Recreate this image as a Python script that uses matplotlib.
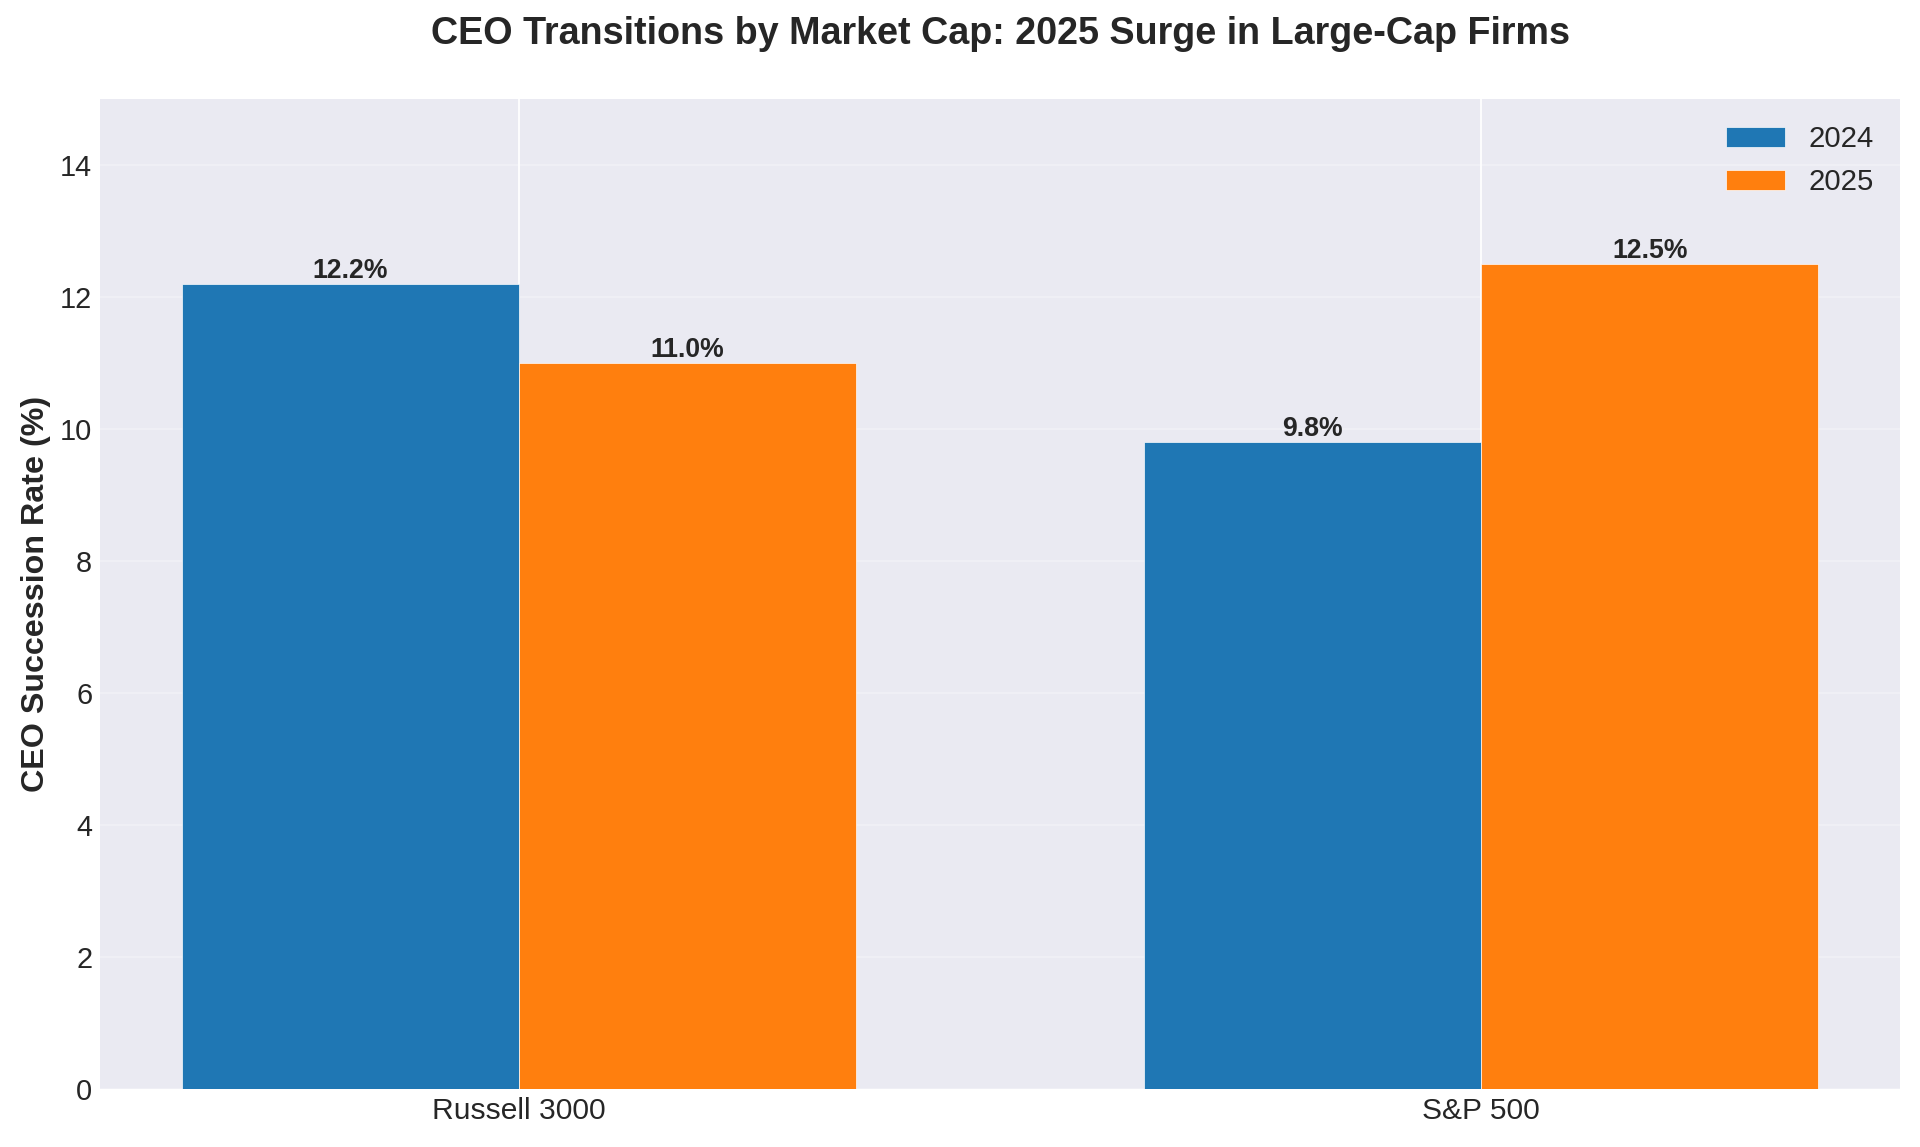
import matplotlib
matplotlib.use("Agg")
import matplotlib.pyplot as plt
import numpy as np

plt.style.use("seaborn-v0_8-darkgrid")
plt.rcParams['font.family'] = ['Liberation Sans', 'DejaVu Sans']

categories = ["Russell 3000", "S&P 500"]
years = ["2024", "2025"]
values_2024 = [12.2, 9.8]
values_2025 = [11.0, 12.5]
colors = ["#1f77b4", "#ff7f0e"]

fig = plt.figure(figsize=(12, 1147 / 160), dpi=160)
ax = fig.add_axes([100 / 1920, 58 / 1147, 1800 / 1920, 990 / 1147])

x = np.arange(len(categories))
w = 0.35
b1 = ax.bar(x - w / 2, values_2024, w, label=years[0], color=colors[0], edgecolor="white", linewidth=0.3)
b2 = ax.bar(x + w / 2, values_2025, w, label=years[1], color=colors[1], edgecolor="white", linewidth=0.3)

for bars in (b1, b2):
    for r in bars:
        h = r.get_height()
        ax.text(r.get_x() + r.get_width() / 2, h, f"{h:.1f}%", ha="center", va="bottom",
                fontsize=12, fontweight="bold", color="#262626")

ax.set_xticks(x)
ax.set_xticklabels(categories, fontsize=13.5)
ax.tick_params(axis="y", labelsize=13)
ax.set_ylim(0, 15)
ax.set_ylabel("CEO Succession Rate (%)", fontsize=14.5, fontweight="bold")
ax.grid(axis="y", alpha=0.3)
ax.legend(fontsize=13.2, loc="upper right")
fig.suptitle("CEO Transitions by Market Cap: 2025 Surge in Large-Cap Firms",
             fontsize=17, fontweight="bold", x=1000 / 1920, y=1 - 34 / 1147, va="center")

fig.savefig("out.png", dpi=160)
